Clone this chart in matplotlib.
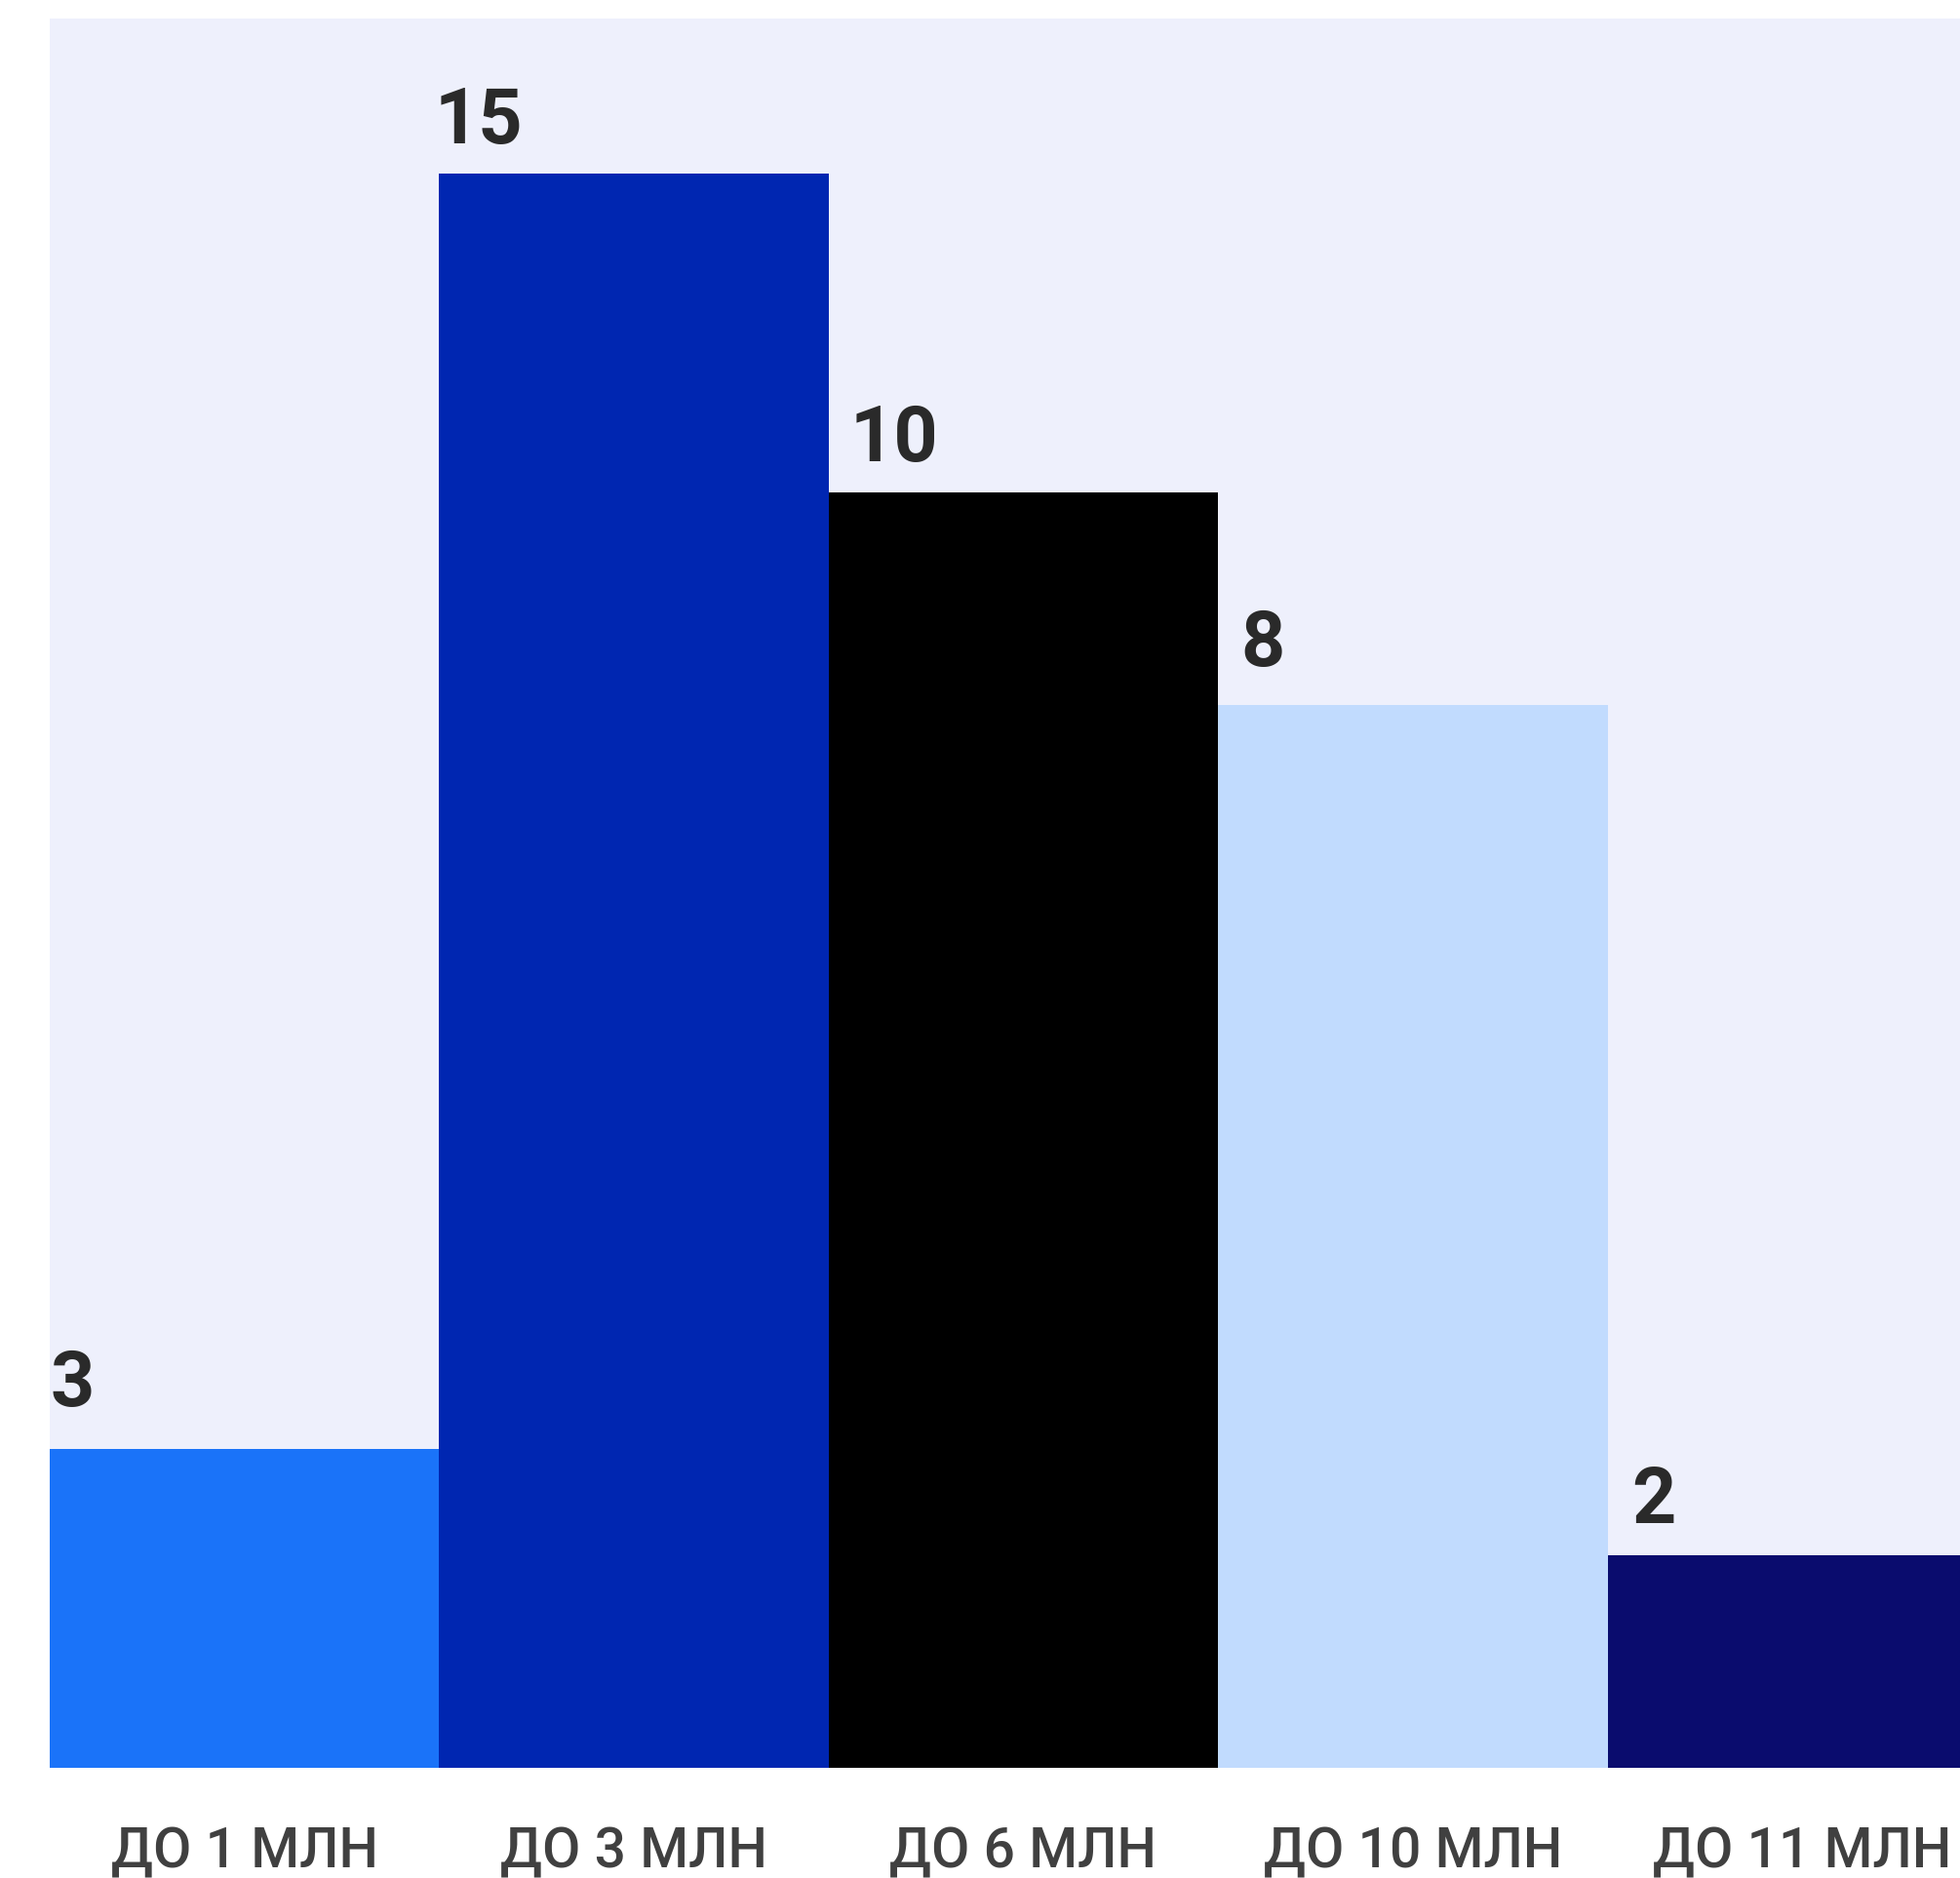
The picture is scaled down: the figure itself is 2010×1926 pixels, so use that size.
import matplotlib
matplotlib.use("Agg")
import matplotlib.pyplot as plt

categories = ["ДО 1 МЛН", "ДО 3 МЛН", "ДО 6 МЛН", "ДО 10 МЛН", "ДО 11 МЛН"]
values = [3, 15, 12, 10, 2]
value_labels = ["3", "15", "10", "8", "2"]
colors = ["#1A73F9", "#0026B1", "#000000", "#C1DBFE", "#0A0C6E"]
label_offsets = [0.0, -0.012, 0.055, 0.058, 0.061]
label_gaps = [44, 31, 32, 40, 33]

fig = plt.figure(figsize=(20.10, 19.26), dpi=100)
ax = fig.add_axes([51/2010, 113/1926, 1997/2010, 1794/1926])
ax.set_facecolor("#EEF0FC")

x = list(range(len(categories)))
ax.bar(x, values, width=1.0, color=colors, align="center", linewidth=0)
ax.set_xlim(-0.5, len(categories) - 0.5)
ax.set_ylim(0, 16.46)

for i, (v, lab) in enumerate(zip(values, value_labels)):
    ax.annotate(lab, xy=(i - 0.5 + label_offsets[i], v), xytext=(0, label_gaps[i]),
                textcoords="offset pixels", ha="left", va="baseline",
                fontsize=57, fontweight="bold", family="Roboto", color="#2A2A2A")

ax.set_xticks(x)
ax.set_xticklabels(categories, fontsize=41, family="Roboto", fontweight="medium",
                   color="#404040")
ax.tick_params(axis="x", length=0, pad=43)
ax.set_yticks([])
for s in ax.spines.values():
    s.set_visible(False)

fig.savefig("out.png", dpi=100, facecolor="white")
